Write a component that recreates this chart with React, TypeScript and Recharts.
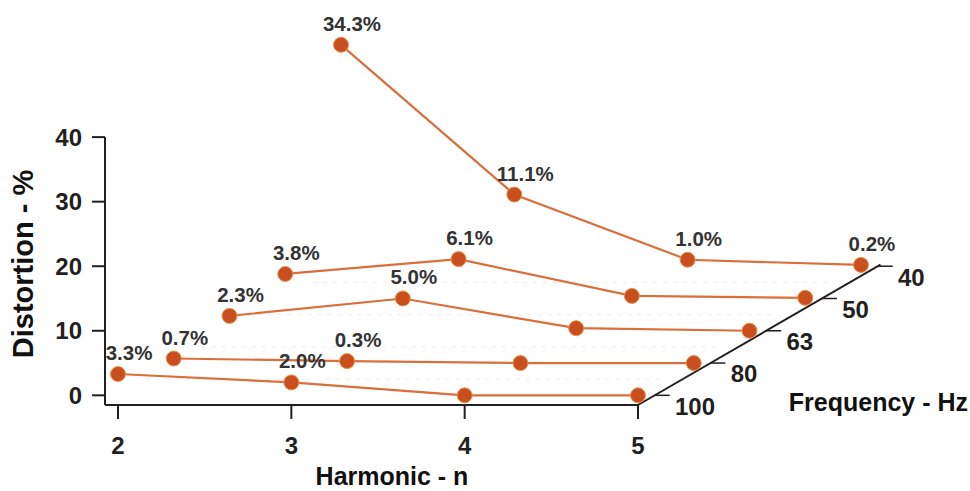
import React from 'react';
import {
  ComposedChart,
  Customized,
  Line,
  ReferenceLine,
  Scatter,
  XAxis,
  YAxis,
} from 'recharts';

// harmonic number on the front axis
const HARMONICS = [2, 3, 4, 5];
// frequency rows, front to back
const FREQUENCIES = [100, 80, 63, 50, 40];
// distortion % per harmonic, one row per frequency
const DIST_100HZ = [3.3, 2.0, 0.0, 0.0];
const DIST_80HZ = [0.7, 0.3, 0.0, 0.0];
const DIST_63HZ = [2.3, 5.0, 0.4, 0.0];
const DIST_50HZ = [3.8, 6.1, 0.4, 0.1];
const DIST_40HZ = [34.3, 11.1, 1.0, 0.2];
const Y_TICKS = [0, 10, 20, 30, 40];

const ROWS = [DIST_100HZ, DIST_80HZ, DIST_63HZ, DIST_50HZ, DIST_40HZ];

const FONT = '"Liberation Sans", Arial, Helvetica, sans-serif';
const INK = '#231f20';
const LINE_COLOR = '#d96f3b';
const DOT_COLOR = '#c94f1e';

const W = 970;
const H = 491;
const MARGIN = { top: 8, right: 3, bottom: 36, left: 0 };
const Y_AXIS_W = 105;
const X_AXIS_H = 50;

// pseudo-3d projection: each frequency row is shifted right and up
const PX_PER_N = 173.33;
const PX_PER_PCT = 6.455;
const DEPTH_DX = 55.75 / PX_PER_N;
const DEPTH_DY = 5;
const FLOOR = -1.5;

const PLOT_W = W - Y_AXIS_W - MARGIN.left - MARGIN.right;
const PLOT_H = H - MARGIN.top - MARGIN.bottom - X_AXIS_H;
const X_MIN = 2 - 13 / PX_PER_N;
const X_DOMAIN: [number, number] = [X_MIN, X_MIN + PLOT_W / PX_PER_N];
const Y_DOMAIN: [number, number] = [FLOOR, FLOOR + PLOT_H / PX_PER_PCT];

const project = (n: number, v: number, depth: number) => ({
  x: n + depth * DEPTH_DX,
  y: v + depth * DEPTH_DY,
});

const freqLabels = FREQUENCIES.map((f, d) => ({ ...project(5, FLOOR, d), label: String(f) }));

const pointLabel = (values: number[], freq: number) => (props: any) => {
  const { x, y, index } = props;
  if (HARMONICS[index] > 3 && freq !== 40) return <g />;
  return (
    <text
      x={x + 11}
      y={y - 14}
      textAnchor="middle"
      fontFamily={FONT}
      fontWeight={700}
      fontSize={20.5}
      fill="#333"
    >
      {values[index].toFixed(1)}%
    </text>
  );
};

const FreqLabel = (props: any) => (
  <text
    x={props.cx + 37}
    y={props.cy + 1}
    dy="0.36em"
    fontFamily={FONT}
    fontWeight={700}
    fontSize={24}
    fill={INK}
  >
    {props.payload.label}
  </text>
);

const Titles = () => (
  <g fontFamily={FONT} fontWeight={700} fill="#111">
    <text
      x={23}
      y={264}
      fontSize={29}
      textAnchor="middle"
      dy="0.36em"
      transform="rotate(-90 23 264)"
    >
      Distortion - %
    </text>
    <text x={392} y={476} fontSize={25} textAnchor="middle" dy="0.36em">
      Harmonic - n
    </text>
    <text x={968} y={402} fontSize={25} textAnchor="end" dy="0.36em">
      Frequency - Hz
    </text>
  </g>
);

export default function App() {
  const axisStart = project(5, FLOOR, 0);
  const axisEnd = project(5, FLOOR, 4.35);
  return (
    <div style={{ position: 'absolute', left: 0, top: 0, width: W, height: H, background: '#fff' }}>
      <ComposedChart width={W} height={H} margin={MARGIN}>
        <XAxis
          type="number"
          dataKey="x"
          domain={X_DOMAIN}
          ticks={HARMONICS}
          height={X_AXIS_H}
          axisLine={false}
          tickSize={14}
          tickMargin={18}
          tickLine={{ stroke: INK, strokeWidth: 2 }}
          tick={{ fill: INK, fontSize: 24, fontWeight: 700, fontFamily: FONT }}
        />
        <YAxis
          type="number"
          dataKey="y"
          domain={Y_DOMAIN}
          ticks={Y_TICKS}
          width={Y_AXIS_W}
          axisLine={false}
          tickSize={13}
          tickMargin={10}
          tickLine={{ stroke: INK, strokeWidth: 2 }}
          tick={{ fill: INK, fontSize: 24, fontWeight: 700, fontFamily: FONT }}
        />

        {/* faint floor grid */}
        {[0.5, 1.5, 2.5, 3.5].map((d) => (
          <ReferenceLine
            key={`floor-${d}`}
            segment={[project(2, 0, d), project(5, 0, d)]}
            stroke="#ececec"
            strokeDasharray="4 6"
          />
        ))}

        {/* axes */}
        <ReferenceLine
          segment={[{ x: X_MIN, y: FLOOR }, { x: X_MIN, y: 40 }]}
          stroke={INK}
          strokeWidth={2}
        />
        <ReferenceLine
          segment={[{ x: X_MIN, y: FLOOR }, { x: 5, y: FLOOR }]}
          stroke={INK}
          strokeWidth={2}
        />
        <ReferenceLine segment={[axisStart, axisEnd]} stroke={INK} strokeWidth={2} />
        {FREQUENCIES.map((f, d) => {
          const p = project(5, FLOOR, d + 0.3);
          return (
            <ReferenceLine
              key={`ftick-${f}`}
              segment={[p, { x: p.x + 15 / PX_PER_N, y: p.y }]}
              stroke={INK}
              strokeWidth={1.5}
            />
          );
        })}
        <Scatter
          data={freqLabels}
          dataKey="y"
          shape={FreqLabel}
          isAnimationActive={false}
        />

        {/* series, back to front */}
        {[...FREQUENCIES.keys()].reverse().map((d) => (
          <Line
            key={FREQUENCIES[d]}
            data={ROWS[d].map((v, i) => project(HARMONICS[i], v, d))}
            dataKey="y"
            type="linear"
            stroke={LINE_COLOR}
            strokeWidth={2.2}
            dot={{ r: 7.5, fill: DOT_COLOR, stroke: '#e8934f', strokeWidth: 1 }}
            activeDot={false}
            label={pointLabel(ROWS[d], FREQUENCIES[d])}
            isAnimationActive={false}
          />
        ))}

        <Customized component={Titles} />
      </ComposedChart>
    </div>
  );
}
